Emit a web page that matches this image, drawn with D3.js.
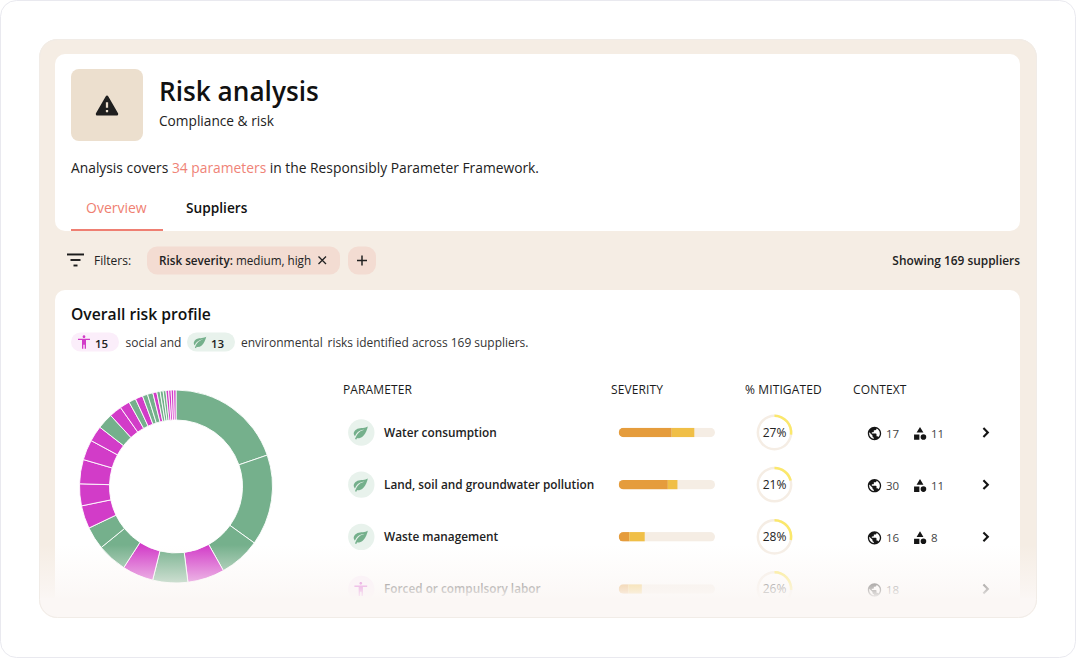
<!DOCTYPE html>
<html>
<head>
<meta charset="utf-8">
<script src="https://cdn.jsdelivr.net/npm/d3@7"></script>
<style>
  html, body { margin: 0; padding: 0; background: #fff; }
  svg { display: block; }
  text { font-family: "Open Sans", sans-serif; fill: #1b1b1b; }
</style>
</head>
<body>
<div id="chart"></div>
<script>
// donut slices, clockwise from the top
const sliceTypes = ["env","env","env","soc","env","soc","env","env","soc","soc","soc","soc","soc","env","soc","soc","env","soc","env","env","soc","env","env","env","soc","soc","soc","soc"];
const sliceValues = [71, 54.8, 24.8, 22.3, 21.1, 18.8, 18, 13.7, 13.9, 13.2, 14.6, 12.2, 9.5, 9.5, 7.5, 6, 4.3, 4.5, 3.1, 3.3, 2.4, 2, 1.8, 1.7, 1.6, 1.5, 1.5, 1.4];

// table rows
const paramNames = ["Water consumption", "Land, soil and groundwater pollution", "Waste management", "Forced or compulsory labor"];
const paramTypes = ["env", "env", "env", "soc"];
const severityHigh = [55, 51, 11, 10];
const severityMedium = [23.5, 10, 16, 14];
const mitigated = [27, 21, 28, 26];
const countries = [17, 30, 16, 18];
const categories = [11, 11, 8, null];
const headers = ["PARAMETER", "SEVERITY", "% MITIGATED", "CONTEXT"];

const GREEN = "#75b08c";
const PINK = "#d23cc8";
const BEIGE = "#f5ede4";

const ICONS = {
  warning: "M12 3.2c.5 0 .9.3 1.2.7l8.6 14.9c.5.9-.1 2.1-1.2 2.1H3.400c-1.100 0-1.700-1.200-1.200-2.100L10.800 3.900c.3-.4.7-.7 1.200-.7zM11 9v5h2V9zm0 7v2h2v-2z",
  leaf: "M17 8C8 10 5.900 16.170 3.820 21.340l1.890.66.95-2.300c.48.17.98.3 1.340.3C19 20 22 3 22 3c-1 2-8 2.250-13 3.250S2 11.500 2 13.500s1.750 3.750 1.750 3.750C7 8 17 8 17 8z",
  person: "M12 2c1.100 0 2 .9 2 2s-.9 2-2 2-2-.9-2-2 .9-2 2-2zm9 7h-6v13h-2v-6h-2v6H9V9H3V7h18v2z",
  globe: "M12 2C6.480 2 2 6.480 2 12s4.480 10 10 10 10-4.480 10-10S17.520 2 12 2zm-1 17.930c-3.950-.49-7-3.850-7-7.930 0-.62.08-1.210.21-1.790L9 15v1c0 1.100.9 2 2 2v1.930zm6.900-2.540c-.26-.81-1-1.390-1.900-1.390h-1v-3c0-.55-.45-1-1-1H8v-2h2c.55 0 1-.45 1-1V7h2c1.100 0 2-.9 2-2v-.41c2.930 1.190 5 4.060 5 7.410 0 2.080-.8 3.970-2.100 5.390z",
  shapes: "M12 1.500l-5.500 9h11zM2.500 13.500h8.500v8.500H2.500zM17.500 13a4.500 4.500 0 1 0 0 9 4.500 4.500 0 0 0 0-9z",
  chevron: "M9.700 5.500L7.800 7.400 12.400 12l-4.600 4.600 1.900 1.900 6.500-6.500z"
};

const svg = d3.select("#chart").append("svg").attr("width", 1076).attr("height", 658);
const defs = svg.append("defs");

function icon(parent, name, cx, cy, size, color) {
  parent.append("path")
    .attr("d", ICONS[name])
    .attr("fill", color)
    .attr("transform", `translate(${cx - size / 2},${cy - size / 2}) scale(${size / 24})`);
}

function label(parent, str, x, y, size, weight, color, anchor) {
  return parent.append("text")
    .attr("x", x).attr("y", y)
    .attr("font-size", size)
    .attr("font-weight", weight || 400)
    .attr("text-anchor", anchor || "start")
    .style("fill", color || "#1b1b1b")
    .text(str);
}

function box(parent, x, y, w, h, r, fill) {
  return parent.append("rect").attr("x", x).attr("y", y).attr("width", w).attr("height", h).attr("rx", r).attr("fill", fill);
}

// outer frame and panel
box(svg, 0.5, 0.5, 1075, 657, 16, "#fff").attr("stroke", "#e9e9ef");
defs.append("clipPath").attr("id", "panel-clip")
  .append("rect").attr("x", 39).attr("y", 39).attr("width", 998).attr("height", 579).attr("rx", 18);

const panel = svg.append("g").attr("clip-path", "url(#panel-clip)");
box(panel, 39, 39, 998, 579, 18, BEIGE);

// header card
box(panel, 55, 54, 965, 177, 10, "#fff");
box(panel, 71, 69, 72, 72, 8, "#ecdfce");
icon(panel, "warning", 107, 105.500, 27, "#1f1f1f");
label(panel, "Risk analysis", 159, 100.500, 26.200, 600, "#111");
label(panel, "Compliance & risk", 159, 125.500, 13.700, 400, "#222");

const intro = label(panel, "Analysis covers ", 71, 173, 13.820, 400, "#222");
intro.append("tspan").style("fill", "#ef8377").text("34 parameters");
intro.append("tspan").text(" in the Responsibly Parameter Framework.");

label(panel, "Overview", 86, 213, 14, 500, "#ef7f72");
label(panel, "Suppliers", 186, 213, 13.700, 600, "#111");
box(panel, 71, 229, 92, 2, 0, "#ef7f72");

// filter row
[[67, 84, 254.500], [70.500, 80.500, 260], [73.500, 77.500, 265.500]].forEach(d => {
  panel.append("line").attr("x1", d[0]).attr("x2", d[1]).attr("y1", d[2]).attr("y2", d[2])
    .attr("stroke", "#1b1b1b").attr("stroke-width", 1.900);
});
label(panel, "Filters:", 94, 265, 12, 500, "#222");
box(panel, 147, 246.500, 193, 28, 10, "#f3dcd2");
const chip = label(panel, "Risk severity:", 159, 265, 11.700, 600, "#222");
chip.append("tspan").attr("font-weight", 400).text(" medium, high");
panel.append("path").attr("d", "M318.500 256.500l7.500 7.500m0-7.500l-7.500 7.500").attr("stroke", "#222").attr("stroke-width", 1.300).attr("fill", "none");
box(panel, 348, 246.500, 28, 28, 10, "#f3dcd2");
panel.append("path").attr("d", "M357 260.500h10m-5-5v10").attr("stroke", "#222").attr("stroke-width", 1.500).attr("fill", "none");
label(panel, "Showing 169 suppliers", 1020, 265, 11.900, 600, "#222", "end");

// risk profile card
box(panel, 55, 290, 965, 340, 10, "#fff");
label(panel, "Overall risk profile", 71, 320, 15.700, 600, "#111");

box(panel, 71, 332.500, 48, 19, 9.500, "#fbeefa");
icon(panel, "person", 84, 342, 16, PINK);
label(panel, "15", 95, 347.500, 11.500, 600, "#222");
label(panel, "social and", 125.500, 346.500, 12, 400, "#333");
box(panel, 187, 332.500, 48, 19, 9.500, "#e8f2ec");
icon(panel, "leaf", 200, 342, 15, GREEN);
label(panel, "13", 211, 347.500, 11.500, 600, "#222");
label(panel, "environmental", 241, 346.500, 12, 400, "#333");
label(panel, "risks identified across 169 suppliers.", 327.500, 346.500, 11.950, 400, "#333");

// donut
const pie = d3.pie().sort(null).value(d => d.value);
const arc = d3.arc().innerRadius(66.500).outerRadius(96.500);
const sliceData = sliceValues.map((value, i) => ({ value, type: sliceTypes[i] }));

panel.append("g")
  .attr("transform", "translate(176,486.500)")
  .selectAll("path")
  .data(pie(sliceData))
  .join("path")
  .attr("d", arc)
  .attr("fill", d => d.data.type === "env" ? GREEN : PINK)
  .attr("stroke", "#fff")
  .attr("stroke-width", 0.900);

// table
const headerX = d3.scaleOrdinal().domain(headers).range([343, 611, 745, 853]);
headers.forEach(h => label(panel, h, headerX(h), 394, 12, 500, "#1b1b1b").attr("letter-spacing", 0.12));

const rowY = d3.scalePoint().domain(d3.range(paramNames.length)).range([432.500, 589]);
const severityX = d3.scaleLinear().domain([0, 100]).range([618.700, 715]);
const mitigatedAngle = d3.scaleLinear().domain([0, 100]).range([0, 2 * Math.PI]);
const ringArc = d3.arc().innerRadius(15.400).outerRadius(17.900).startAngle(0);
const barH = 9.500;

paramNames.forEach((name, i) => {
  const y = rowY(i);
  const row = panel.append("g");
  const isEnv = paramTypes[i] === "env";

  row.append("circle").attr("cx", 361.300).attr("cy", y).attr("r", 13.200).attr("fill", isEnv ? "#e8f2ec" : "#fbeefa");
  icon(row, isEnv ? "leaf" : "person", 360.800, y, 17, isEnv ? GREEN : PINK);
  label(row, name, 384, y + 4.300, 11.800, 600, "#222");

  // severity bar
  defs.append("clipPath").attr("id", `bar-clip-${i}`)
    .append("rect").attr("x", severityX(0)).attr("y", y - barH / 2).attr("width", severityX(100) - severityX(0)).attr("height", barH).attr("rx", barH / 2);
  const bar = row.append("g").attr("clip-path", `url(#bar-clip-${i})`);
  box(bar, severityX(0), y - barH / 2, severityX(100) - severityX(0), barH, 0, BEIGE);
  box(bar, severityX(0), y - barH / 2, severityX(severityHigh[i]) - severityX(0), barH, 0, "#e59c3c");
  box(bar, severityX(severityHigh[i]), y - barH / 2, severityX(severityHigh[i] + severityMedium[i]) - severityX(severityHigh[i]), barH, 0, "#f0bf47");

  // mitigated ring
  const ring = row.append("g").attr("transform", `translate(774.500,${y})`);
  ring.append("path").attr("d", ringArc({ endAngle: mitigatedAngle(100) })).attr("fill", BEIGE);
  ring.append("path").attr("d", ringArc({ endAngle: mitigatedAngle(mitigated[i]) })).attr("fill", "#fbe86b");
  label(ring, `${mitigated[i]}%`, 0, 4.300, 12, 500, "#222", "middle");

  // context
  icon(row, "globe", 874.500, y + 1, 16, "#151515");
  label(row, countries[i], 886, y + 5.300, 11.500, 400, "#444");
  if (categories[i] !== null) {
    icon(row, "shapes", 920, y + 1, 15, "#151515");
    label(row, categories[i], 931, y + 5.300, 11.500, 400, "#444");
  }
  icon(row, "chevron", 986, y, 19, "#151515");
});

// fade at the bottom of the panel
const fade = defs.append("linearGradient").attr("id", "fade").attr("x1", 0).attr("y1", 0).attr("x2", 0).attr("y2", 1);
fade.append("stop").attr("offset", 0).attr("stop-color", "#fbf7f5").attr("stop-opacity", 0);
fade.append("stop").attr("offset", 0.82).attr("stop-color", "#fbf7f5").attr("stop-opacity", 0.78);
fade.append("stop").attr("offset", 1).attr("stop-color", "#fbf7f5").attr("stop-opacity", 1);
box(panel, 39, 545, 998, 55, 0, "url(#fade)");
box(panel, 39, 598, 998, 20, 0, "#fbf7f5");
svg.append("rect").attr("x", 39.500).attr("y", 39.500).attr("width", 997).attr("height", 578).attr("rx", 18)
  .attr("fill", "none").attr("stroke", "#f1ece7").attr("stroke-width", 1);
</script>
</body>
</html>
